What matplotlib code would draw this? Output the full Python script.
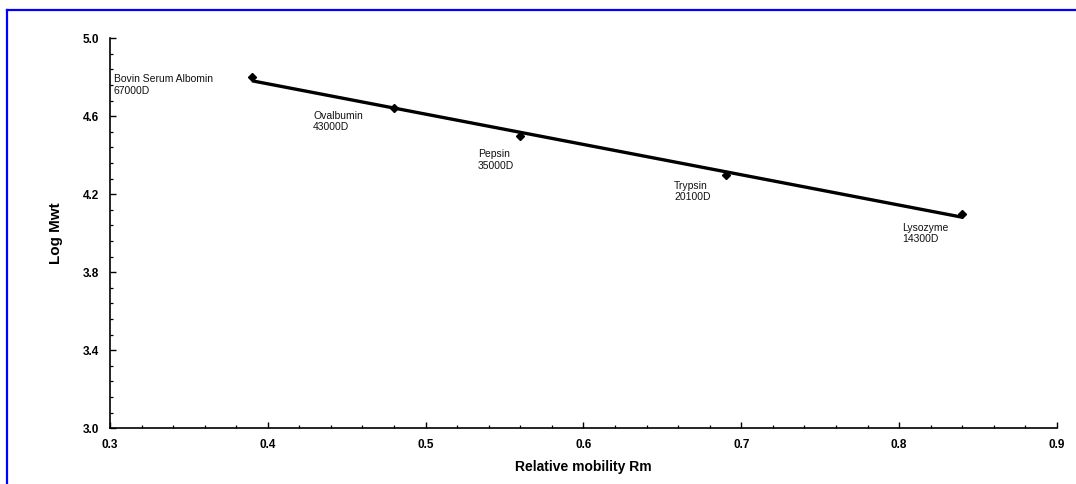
import numpy as np
import matplotlib
matplotlib.use("Agg")
import matplotlib.pyplot as plt
from matplotlib.lines import Line2D
from matplotlib.ticker import FixedLocator, FormatStrFormatter

plt.rcParams['font.family'] = ['Liberation Sans', 'DejaVu Sans']

# Data
proteins = ["Bovin Serum Albomin", "Ovalbumin", "Pepsin", "Trypsin", "Lysozyme"]
mw_labels = ["67000D", "43000D", "35000D", "20100D", "14300D"]
rm = [0.39, 0.48, 0.56, 0.69, 0.84]
log_mwt = [4.80, 4.64, 4.50, 4.30, 4.10]
# label anchor positions (top-left of text) in data coords
label_x = [0.3025, 0.4287, 0.5330, 0.6574, 0.8020]
label_y = [4.815, 4.628, 4.430, 4.268, 4.052]
x_major = [0.3, 0.4, 0.5, 0.6, 0.7, 0.8, 0.9]
y_major = [3.0, 3.4, 3.8, 4.2, 4.6, 5.0]

fig = plt.figure(figsize=(10.76, 4.84), dpi=100)
ax = fig.add_axes([0.1022, 0.1151, 0.8801, 0.8058])

# trend line (least squares fit)
coef = np.polyfit(rm, log_mwt, 1)
xfit = np.array([min(rm), max(rm)])
ax.plot(xfit, np.polyval(coef, xfit), color='black', lw=2.4, solid_capstyle='butt', zorder=2)
ax.plot(rm, log_mwt, linestyle='none', marker='D', markersize=4.2, color='black', zorder=3)

for name, mw, lx, ly in zip(proteins, mw_labels, label_x, label_y):
    ax.text(lx, ly, f"{name}\n{mw}", fontsize=7.5, ha='left', va='top',
            linespacing=1.15, color='#111111')

ax.set_xlim(0.3, 0.9)
ax.set_ylim(3.0, 5.0)
ax.xaxis.set_major_locator(FixedLocator(x_major))
ax.xaxis.set_minor_locator(FixedLocator(np.linspace(0.3, 0.9, 31)))
ax.yaxis.set_major_locator(FixedLocator(y_major))
ax.yaxis.set_minor_locator(FixedLocator(np.linspace(3.0, 5.0, 26)))
ax.xaxis.set_major_formatter(FormatStrFormatter('%.1f'))
ax.yaxis.set_major_formatter(FormatStrFormatter('%.1f'))

ax.spines['top'].set_visible(False)
ax.spines['right'].set_visible(False)
for s in ('left', 'bottom'):
    ax.spines[s].set_linewidth(1.2)

ax.tick_params(axis='both', which='major', direction='in', length=4.5, width=1.0,
               labelsize=8.5, pad=8)
ax.tick_params(axis='both', which='minor', direction='in', length=2.5, width=0.9)
for lab in ax.get_xticklabels() + ax.get_yticklabels():
    lab.set_fontweight('bold')

ax.set_xlabel("Relative mobility Rm", fontsize=10, fontweight='bold', labelpad=6)
ax.set_ylabel("Log Mwt", fontsize=11, fontweight='bold', labelpad=14)

# blue frame (top and left edges visible)
fig.add_artist(Line2D([6.7/1076, 1.0], [1 - 10/484, 1 - 10/484],
                      transform=fig.transFigure, color='#0000ff', lw=1.6))
fig.add_artist(Line2D([6.7/1076, 6.7/1076], [0.0, 1 - 10/484],
                      transform=fig.transFigure, color='#0000ff', lw=1.6))

fig.savefig("out.png", dpi=100)
